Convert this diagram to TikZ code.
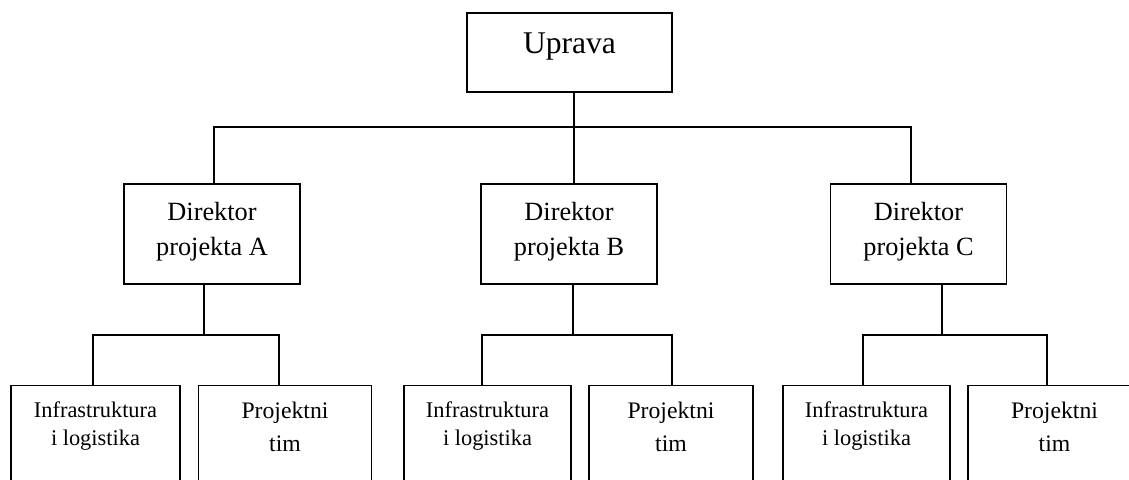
\documentclass[tikz,border=0pt]{standalone}
\usepackage{fontspec}
\setmainfont{Liberation Serif}
\begin{document}
\begin{tikzpicture}[x=1pt,y=-1pt,
  box/.style={draw=black, line width=1.8pt, inner sep=0pt, align=center, text=black},
  topbox/.style={box, minimum width=205pt, minimum height=79pt, font=\fontsize{31.6}{38}\selectfont},
  dirbox/.style={box, minimum width=176pt, minimum height=100pt, font=\fontsize{26.3}{35}\selectfont},
  infbox/.style={box, minimum height=120pt, font=\fontsize{22.4}{28}\selectfont},
  prjbox/.style={box, minimum height=120pt, font=\fontsize{23.7}{32.5}\selectfont},
  link/.style={draw=black, line width=1.8pt}]
\useasboundingbox (0,0) rectangle (1129,479);
\clip (0,0) rectangle (1129,479);
% top
\node[topbox] (u) at (569.5,52.5) {\rule[-18pt]{0pt}{21pt}Uprava};
% directors
\node[dirbox] (dA) at (212,234) {\rule{0pt}{20pt}Direktor\\projekta A\rule[-13pt]{0pt}{0pt}};
\node[dirbox] (dB) at (569,234) {\rule{0pt}{20pt}Direktor\\projekta B\rule[-13pt]{0pt}{0pt}};
\node[dirbox] (dC) at (918.5,234) {\rule{0pt}{20pt}Direktor\\projekta C\rule[-13pt]{0pt}{0pt}};
% bottom row
\node[infbox, minimum width=169pt] (iA) at (95.5,445.5) {\rule{0pt}{17pt}Infrastruktura\\i logistika\rule[-46pt]{0pt}{0pt}};
\node[prjbox, minimum width=173pt] (pA) at (285,445.5) {\rule{0pt}{18pt}Projektni\\tim\rule[-39.5pt]{0pt}{0pt}};
\node[infbox, minimum width=167pt] (iB) at (487.5,445.5) {\rule{0pt}{17pt}Infrastruktura\\i logistika\rule[-46pt]{0pt}{0pt}};
\node[prjbox, minimum width=164pt] (pB) at (671,445.5) {\rule{0pt}{18pt}Projektni\\tim\rule[-39.5pt]{0pt}{0pt}};
\node[infbox, minimum width=167pt] (iC) at (866.5,445.5) {\rule{0pt}{17pt}Infrastruktura\\i logistika\rule[-46pt]{0pt}{0pt}};
\node[prjbox, minimum width=173pt] (pC) at (1054.5,445.5) {\rule{0pt}{18pt}Projektni\\tim\rule[-39.5pt]{0pt}{0pt}};
% junction coordinates
\coordinate (hU) at (574,127);
\coordinate (hA) at (214,127);
\coordinate (hC) at (911,127);
\coordinate (jA) at (204,335);
\coordinate (lA) at (93,335);
\coordinate (rA) at (279,335);
\coordinate (jB) at (573,335);
\coordinate (lB) at (482,335);
\coordinate (rB) at (672,335);
\coordinate (jC) at (942,335);
\coordinate (lC) at (863,335);
\coordinate (rC) at (1047,335);
% connectors
\draw[link] (u.south -| hU) -- (dB.north -| hU);
\draw[link] (dA.north -| hA) -- (hA) -- (hC) -- (dC.north -| hC);
\draw[link] (dA.south -| jA) -- (jA);
\draw[link] (iA.north -| lA) -- (lA) -- (rA) -- (pA.north -| rA);
\draw[link] (dB.south -| jB) -- (jB);
\draw[link] (iB.north -| lB) -- (lB) -- (rB) -- (pB.north -| rB);
\draw[link] (dC.south -| jC) -- (jC);
\draw[link] (iC.north -| lC) -- (lC) -- (rC) -- (pC.north -| rC);
\end{tikzpicture}
\end{document}
